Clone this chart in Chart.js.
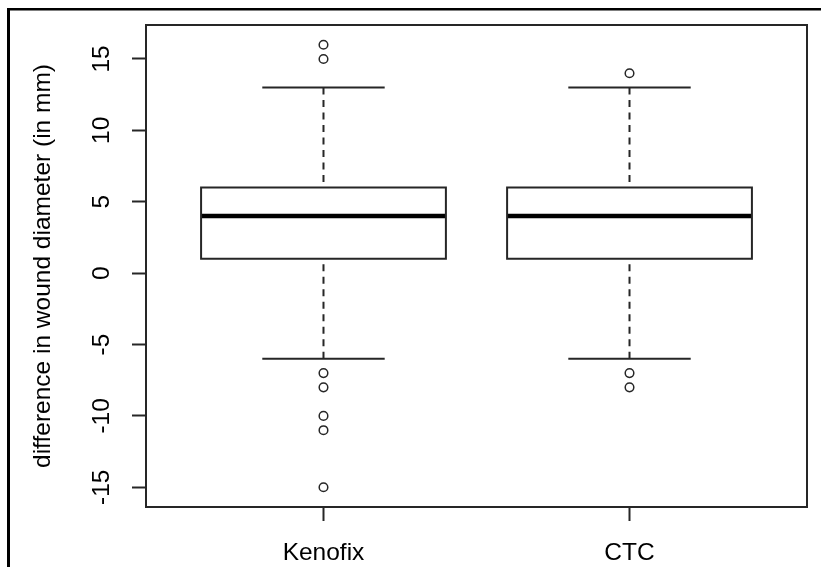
<!DOCTYPE html>
<html><head><meta charset="utf-8">
<script src="https://cdn.jsdelivr.net/npm/chart.js@4"></script>
<style>html,body{margin:0;padding:0;background:#fff;} #wrap{position:relative;width:821px;height:567px;}</style>
</head><body><div id="wrap"><canvas id="c" width="821" height="567"></canvas></div>
<script>
// ---- data ----
const categories = ['Kenofix', 'CTC'];
const lowerWhisker = [-6, -6];
const lowerHinge = [1, 1];
const medians = [4, 4];
const upperHinge = [6, 6];
const upperWhisker = [13, 13];
const outliersKenofix = [16, 15, -7, -8, -10, -11, -15];
const outliersCTC = [14, -7, -8];
const outliers = [outliersKenofix, outliersCTC];
const yTickValues = [-15, -10, -5, 0, 5, 10, 15];
const yTitle = 'difference in wound diameter (in mm)';

// ---- styling ----
const BOX_HALF = 0.4, CAP_HALF = 0.2;
const LINE = '#262626';
const FONT = '24.5px "Liberation Sans", Arial, sans-serif';

const datasets = [];
categories.forEach((cat, i) => {
  const x = i + 1;
  datasets.push({
    label: cat + ' box',
    data: [
      {x: x - BOX_HALF, y: lowerHinge[i]}, {x: x + BOX_HALF, y: lowerHinge[i]},
      {x: x + BOX_HALF, y: upperHinge[i]}, {x: x - BOX_HALF, y: upperHinge[i]},
      {x: x - BOX_HALF, y: lowerHinge[i]}
    ],
    showLine: true, borderColor: LINE, borderWidth: 2, pointRadius: 0,
    borderJoinStyle: 'miter', borderCapStyle: 'square', fill: false
  });
  datasets.push({
    label: cat + ' median',
    data: [{x: x - BOX_HALF, y: medians[i]}, {x: x + BOX_HALF, y: medians[i]}],
    showLine: true, borderColor: '#000', borderWidth: 4.5, pointRadius: 0, borderCapStyle: 'butt'
  });
  [[lowerWhisker[i], lowerHinge[i]], [upperWhisker[i], upperHinge[i]]].forEach((pair, k) => {
    datasets.push({
      label: cat + (k ? ' upper whisker' : ' lower whisker'),
      data: [{x: x, y: pair[0]}, {x: x, y: pair[1]}],
      showLine: true, borderColor: LINE, borderWidth: 2, pointRadius: 0,
      borderDash: [7, 5.5], borderCapStyle: 'butt'
    });
    datasets.push({
      label: cat + (k ? ' upper cap' : ' lower cap'),
      data: [{x: x - CAP_HALF, y: pair[0]}, {x: x + CAP_HALF, y: pair[0]}],
      showLine: true, borderColor: LINE, borderWidth: 2, pointRadius: 0, borderCapStyle: 'butt'
    });
  });
  datasets.push({
    label: cat + ' outliers',
    data: outliers[i].map(v => ({x: x, y: v})),
    showLine: false, pointRadius: 4.3, pointBorderWidth: 1.5,
    pointBorderColor: LINE, pointBackgroundColor: 'rgba(0,0,0,0)'
  });
});

const decor = {
  id: 'decor',
  afterDraw(chart) {
    const ctx = chart.ctx, a = chart.chartArea;
    const xs = chart.scales.x, ys = chart.scales.y;
    ctx.save();
    // outer frame
    ctx.fillStyle = '#000';
    ctx.fillRect(7, 8, 3, chart.height - 8);
    ctx.fillRect(7, 8, chart.width - 7, 2.5);
    // plot box
    ctx.strokeStyle = LINE; ctx.lineWidth = 2;
    ctx.strokeRect(a.left, a.top, a.right - a.left, a.bottom - a.top);
    // texts
    ctx.fillStyle = '#000';
    ctx.font = FONT;
    ctx.textAlign = 'center';
    ctx.textBaseline = 'alphabetic';
    yTickValues.forEach(v => {
      ctx.save();
      ctx.translate(109, ys.getPixelForValue(v));
      ctx.rotate(-Math.PI / 2);
      ctx.fillText(String(v), 0, 0);
      ctx.restore();
    });
    ctx.save();
    ctx.translate(50, (a.top + a.bottom) / 2);
    ctx.rotate(-Math.PI / 2);
    ctx.fillText(yTitle, 0, 0);
    ctx.restore();
    categories.forEach((c, i) => {
      ctx.fillText(c, xs.getPixelForValue(i + 1), 560);
    });
    ctx.restore();
  }
};

new Chart(document.getElementById('c'), {
  type: 'scatter',
  data: { datasets },
  options: {
    responsive: false, animation: false, devicePixelRatio: 1,
    layout: { padding: { top: 25, right: 14, left: 0, bottom: 0 } },
    plugins: { legend: { display: false }, tooltip: { enabled: false } },
    scales: {
      x: {
        type: 'linear', min: 0.42, max: 2.58,
        afterBuildTicks: s => { s.ticks = categories.map((c, i) => ({ value: i + 1 })); },
        afterFit: s => { s.height = 60; },
        ticks: { display: false },
        border: { display: false },
        grid: { drawOnChartArea: false, drawTicks: true, tickLength: 14, tickColor: LINE, tickWidth: 2 }
      },
      y: {
        type: 'linear', min: -16.38, max: 17.38,
        afterBuildTicks: s => { s.ticks = yTickValues.map(v => ({ value: v })); },
        afterFit: s => { s.width = 146; },
        ticks: { display: false },
        border: { display: false },
        grid: { drawOnChartArea: false, drawTicks: true, tickLength: 14, tickColor: LINE, tickWidth: 2 }
      }
    }
  },
  plugins: [decor]
});
</script></body></html>
